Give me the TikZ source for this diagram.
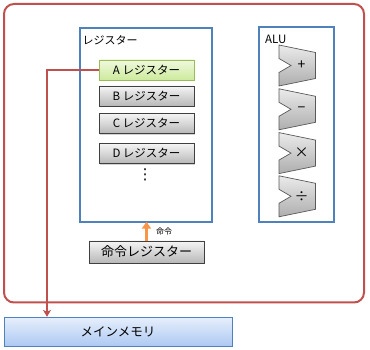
\documentclass[tikz,border=0pt]{standalone}
\usepackage{fontspec}
\setmainfont{Noto Sans CJK JP}
\newfontfamily\symfont{DejaVu Sans}
\usetikzlibrary{shadows,arrows.meta}
\definecolor{offred}{HTML}{C0504D}
\definecolor{offblue}{HTML}{4F81BD}
\definecolor{offorange}{HTML}{F79646}
\definecolor{offgreen}{HTML}{9BBB59}
\definecolor{agtop}{HTML}{F0F9DE}
\definecolor{agbot}{HTML}{CDEA9C}
\definecolor{mmtop}{HTML}{E6EFFC}
\definecolor{mmbot}{HTML}{ADC9F2}
\tikzset{
  regstyle/.style={draw=black!75, line width=0.8pt, top color=black!4, bottom color=black!28,
    minimum width=95pt, minimum height=20pt, inner sep=0pt, outer sep=0pt,
    font=\fontsize{11.5}{12}\selectfont,
    drop shadow={shadow xshift=1pt, shadow yshift=-1.2pt, opacity=0.35}},
  areg/.style={regstyle, draw=offgreen, top color=agtop, bottom color=agbot, drop shadow={shadow xshift=1pt, shadow yshift=-1.2pt, opacity=0.25}},
  container/.style={draw=offblue, line width=2pt, inner sep=0pt, outer sep=0pt},
  alushape/.style={draw=black!65, line width=0.7pt, top color=black!8, bottom color=black!32},
  alusym/.style={font=\fontsize{14}{14}\selectfont, inner sep=0pt},
  redline/.style={draw=offred, line width=2pt},
}
\begin{document}
\begin{tikzpicture}[x=1pt,y=-1pt]
\useasboundingbox (0,0) rectangle (370,350);
% outer CPU frame
\draw[redline, rounded corners=10pt] (4,4) rectangle (364,302.5);
% register container
\node[container, minimum width=132pt, minimum height=193.7pt] (regbox) at (146,124.85) {};
\node[anchor=west, inner sep=0pt, font=\fontsize{11}{12}\selectfont] (reglabel) at (82.5,40) {レジスター};
% registers
\node[areg] (A) at (146.5,70) {A レジスター};
\node[regstyle] (B) at (146.5,96) {B レジスター};
\node[regstyle] (C) at (146.5,123.5) {C レジスター};
\node[regstyle] (D) at (146.5,153.5) {D レジスター};
\node[inner sep=0pt, font=\symfont\fontsize{15}{15}\selectfont] (dots) at (145,175) {⋮};
% instruction register
\node[regstyle, minimum width=115pt, minimum height=22pt, font=\fontsize{13}{14}\selectfont] (cmd) at (146.5,252) {命令レジスター};
\draw[draw=offorange, line width=2.5pt, -{Triangle[width=9pt,length=7pt]}] (cmd.north) -- (cmd.north |- regbox.south);
\node[inner sep=0pt, font=\fontsize{8}{8}\selectfont] (cmdlabel) at (164,231) {命令};
% ALU
\node[container, minimum width=75pt, minimum height=195pt] (alubox) at (296.5,124.5) {};
\node[anchor=west, inner sep=0pt, font=\fontsize{11.5}{12}\selectfont] (alulabel) at (265,39.5) {ALU};
\foreach \yy/\sym/\nm in {45/+/add, 88.8/−/sub, 132.6/×/mul, 175.8/÷/div}{
  \path[alushape, shift={(279,\yy)}] (0,0) -- (36.5,7.5) -- (36.5,33.5) -- (0,41) -- (0,27.5) -- (12,20.5) -- (0,13.5) -- cycle;
  \node[alusym] (\nm) at (301.5,\yy+20.5) {\sym};
}
% main memory
\node[draw=offblue, line width=0.9pt, top color=mmtop, bottom color=mmbot, minimum width=228pt, minimum height=28.7pt, inner sep=0pt, font=\fontsize{12.5}{13}\selectfont] (mem) at (118,331.65) {メインメモリ};
% connector A -> main memory
\coordinate (bend) at (47,70);
\draw[redline, -{Stealth[width=8pt,length=7pt,inset=2pt]}] (A.west) -- (bend) -- (bend |- mem.north);
\end{tikzpicture}
\end{document}
